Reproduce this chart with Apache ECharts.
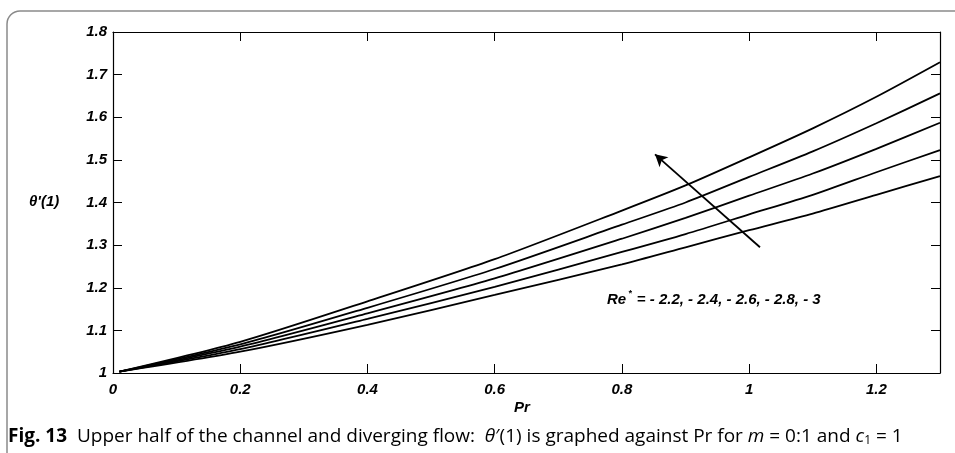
<!DOCTYPE html>
<html>
<head>
<meta charset="utf-8">
<script src="https://cdn.jsdelivr.net/npm/echarts@6/dist/echarts.min.js"></script>
<style>
html, body { margin: 0; padding: 0; background: #fff; }
#chart { width: 955px; height: 453px; }
</style>
</head>
<body>
<div id="chart"></div>
<script>
// Pr values where the curves were read
var pr = [0.01, 0.2, 0.4, 0.6, 0.8, 0.9, 1.0, 1.1, 1.2, 1.3];
// theta'(1), top curve first
var re30 = [1.003, 1.073, 1.168, 1.267, 1.381, 1.440, 1.506, 1.574, 1.648, 1.729];
var re28 = [1.003, 1.067, 1.153, 1.244, 1.348, 1.400, 1.460, 1.520, 1.586, 1.656];
var re26 = [1.003, 1.062, 1.140, 1.222, 1.315, 1.364, 1.416, 1.468, 1.526, 1.587];
var re24 = [1.003, 1.056, 1.127, 1.202, 1.284, 1.326, 1.372, 1.418, 1.471, 1.523];
var re22 = [1.003, 1.050, 1.113, 1.183, 1.255, 1.295, 1.335, 1.374, 1.418, 1.462];
// arrow: tail -> head
var arrowFrom = [1.017, 1.295];
var arrowTo = [0.852, 1.513];

var chart = echarts.init(document.getElementById('chart'));
var labelFont = {
	fontFamily : 'Liberation Sans',
	fontWeight : 'bold',
	fontStyle : 'italic',
	fontSize : 15,
	color : '#000'
};

function pairs(ys) {
	return pr.map(function(x, i) {
		return [x, ys[i]];
	});
}

function curve(name, ys) {
	return {
		name : name,
		type : 'line',
		data : pairs(ys),
		smooth : 0.25,
		showSymbol : false,
		lineStyle : { color : '#000', width : 1.8 },
		silent : true
	};
}

var series = [
	curve('-3', re30),
	curve('-2.8', re28),
	curve('-2.6', re26),
	curve('-2.4', re24),
	curve('-2.2', re22)
];
series[0].markLine = {
	silent : true,
	symbol : ['none', 'arrow'],
	symbolSize : [10, 12],
	label : { show : false },
	lineStyle : { color : '#000', width : 1.8, type : 'solid' },
	data : [ [ { coord : arrowFrom }, { coord : arrowTo } ] ]
};

var axisLine = { show : true, onZero : false, lineStyle : { color : '#000', width : 1.2 } };
var tick = { show : true, inside : true, length : 9, lineStyle : { color : '#000' } };

var option = {
	animation : false,
	grid : { left : 113, right : 15, top : 32, bottom : 80 },
	xAxis : [ {
		type : 'value',
		min : 0,
		max : 1.3,
		interval : 0.2,
		axisLine : axisLine,
		axisTick : tick,
		splitLine : { show : false },
		axisLabel : Object.assign({ margin : 9, showMaxLabel : false }, labelFont)
	}, {
		type : 'value',
		position : 'top',
		min : 0,
		max : 1.3,
		interval : 0.2,
		axisLine : axisLine,
		axisTick : tick,
		splitLine : { show : false },
		axisLabel : { show : false }
	} ],
	yAxis : [ {
		type : 'value',
		min : 1,
		max : 1.8,
		interval : 0.1,
		axisLine : axisLine,
		axisTick : tick,
		splitLine : { show : false },
		axisLabel : Object.assign({ margin : 6 }, labelFont)
	}, {
		type : 'value',
		position : 'right',
		min : 1,
		max : 1.8,
		interval : 0.1,
		axisLine : axisLine,
		axisTick : tick,
		splitLine : { show : false },
		axisLabel : { show : false }
	} ],
	series : series,
	graphic : [ {
		type : 'rect',
		shape : { x : 7, y : 11, width : 1200, height : 800, r : [13, 0, 0, 0] },
		style : { fill : 'none', stroke : '#8a8a8a', lineWidth : 1.5 },
		silent : true
	}, {
		type : 'text',
		left : 29,
		top : 194,
		style : Object.assign({ text : "\u03b8'(1)" }, labelFont)
	}, {
		type : 'text',
		left : 514,
		top : 400,
		style : Object.assign({ text : 'Pr' }, labelFont)
	}, {
		type : 'text',
		left : 607,
		top : 289,
		style : {
			text : '{b|Re}{s|*}{b| = - 2.2, - 2.4, - 2.6, - 2.8, - 3}',
			rich : {
				b : Object.assign({ verticalAlign : 'bottom', lineHeight : 18 }, labelFont),
				s : Object.assign({}, labelFont, { fontSize : 9, verticalAlign : 'top', lineHeight : 18, padding : [0, 1, 0, 2] })
			}
		}
	}, {
		type : 'text',
		left : 8,
		top : 427,
		style : {
			text : '{fb|Fig. 13}{n|  Upper half of the channel and diverging flow:  }{i|\u03b8}{n|\u2032(1) is graphed against Pr for }{i|m}{n| = 0:1 and }{i|c}{sub|1}{n| = 1}',
			rich : {
				fb : { fontFamily : 'Open Sans', fontWeight : 'bold', fontSize : 19, color : '#222' },
				n : { fontFamily : 'Open Sans', fontSize : 19, color : '#222' },
				i : { fontFamily : 'Open Sans', fontStyle : 'italic', fontSize : 19, color : '#222' },
				sub : { fontFamily : 'Open Sans', fontSize : 12, color : '#222', padding : [9, 0, 0, 0] }
			}
		}
	} ]
};
chart.setOption(option);
</script>
</body>
</html>
